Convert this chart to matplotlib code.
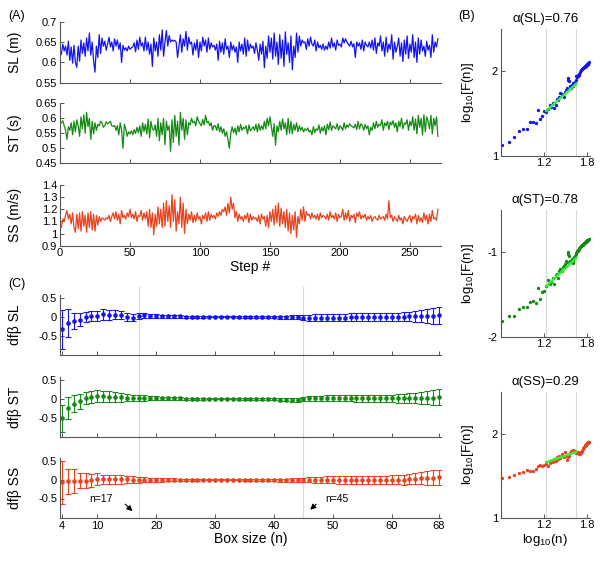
import numpy as np
import matplotlib
matplotlib.use("Agg")
import matplotlib.pyplot as plt
from matplotlib.lines import Line2D
from matplotlib.ticker import FuncFormatter

plt.rcParams["font.family"] = ["Liberation Sans", "DejaVu Sans"]
plt.rcParams["mathtext.fontset"] = "custom"
plt.rcParams["mathtext.rm"] = "Liberation Sans"

W, H = 602, 562

BLUE = "#1414F0"
GREEN = "#138A13"
RED = "#E8421E"
FIT = "#33EE33"
GRID = "#D8D8D8"
SPINE = "#555555"

# ---------- (A) time series ----------
sl_series = [
    0.620, 0.645, 0.628, 0.640, 0.618, 0.652, 0.605, 0.638, 0.598, 0.642,
    0.600, 0.588, 0.640, 0.603, 0.655, 0.622, 0.648, 0.615, 0.660, 0.628,
    0.672, 0.618, 0.650, 0.605, 0.576, 0.640, 0.612, 0.668, 0.622, 0.660,
    0.640, 0.652, 0.630, 0.645, 0.662, 0.638, 0.650, 0.628, 0.658, 0.640,
    0.655, 0.632, 0.648, 0.600, 0.642, 0.630, 0.636, 0.628, 0.640, 0.632,
    0.636, 0.638, 0.648, 0.626, 0.655, 0.632, 0.662, 0.640, 0.648, 0.628,
    0.662, 0.630, 0.650, 0.620, 0.645, 0.590, 0.660, 0.628, 0.650, 0.615,
    0.668, 0.630, 0.680, 0.615, 0.650, 0.678, 0.640, 0.666, 0.650, 0.655,
    0.652, 0.654, 0.650, 0.612, 0.640, 0.668, 0.625, 0.658, 0.640, 0.676,
    0.630, 0.662, 0.645, 0.650, 0.618, 0.648, 0.630, 0.656, 0.612, 0.650,
    0.628, 0.662, 0.640, 0.655, 0.625, 0.660, 0.632, 0.648, 0.638, 0.642,
    0.630, 0.645, 0.605, 0.652, 0.625, 0.648, 0.620, 0.658, 0.632, 0.640,
    0.612, 0.650, 0.630, 0.642, 0.625, 0.638, 0.600, 0.650, 0.628, 0.645,
    0.620, 0.660, 0.615, 0.655, 0.628, 0.645, 0.635, 0.640, 0.622, 0.648,
    0.630, 0.605, 0.645, 0.620, 0.652, 0.587, 0.640, 0.610, 0.665, 0.625,
    0.660, 0.608, 0.672, 0.615, 0.650, 0.595, 0.668, 0.610, 0.655, 0.590,
    0.675, 0.620, 0.648, 0.600, 0.665, 0.582, 0.640, 0.612, 0.672, 0.625,
    0.665, 0.640, 0.655, 0.648, 0.650, 0.632, 0.658, 0.640, 0.662, 0.645,
    0.640, 0.655, 0.628, 0.650, 0.636, 0.642, 0.632, 0.645, 0.630, 0.640,
    0.632, 0.650, 0.635, 0.660, 0.638, 0.648, 0.630, 0.655, 0.642, 0.645,
    0.638, 0.660, 0.648, 0.658, 0.650, 0.645, 0.640, 0.652, 0.638, 0.646,
    0.612, 0.650, 0.640, 0.648, 0.632, 0.655, 0.628, 0.650, 0.642, 0.638,
    0.650, 0.635, 0.655, 0.630, 0.660, 0.622, 0.648, 0.640, 0.665, 0.628,
    0.650, 0.615, 0.662, 0.625, 0.645, 0.632, 0.668, 0.608, 0.650, 0.625,
    0.640, 0.660, 0.615, 0.648, 0.602, 0.655, 0.620, 0.665, 0.610, 0.645,
    0.625, 0.668, 0.612, 0.650, 0.600, 0.660, 0.620, 0.655, 0.628, 0.640,
    0.615, 0.652, 0.630, 0.642, 0.612, 0.668, 0.625, 0.650, 0.638, 0.658,
]
st_series = [
    0.585, 0.592, 0.575, 0.560, 0.530, 0.572, 0.560, 0.585, 0.545, 0.590,
    0.555, 0.595, 0.575, 0.540, 0.605, 0.565, 0.612, 0.550, 0.620, 0.572,
    0.600, 0.530, 0.590, 0.548, 0.585, 0.560, 0.580, 0.575, 0.590, 0.585,
    0.570, 0.575, 0.588, 0.582, 0.585, 0.590, 0.575, 0.573, 0.576, 0.560,
    0.575, 0.545, 0.585, 0.560, 0.500, 0.580, 0.565, 0.540, 0.555, 0.548,
    0.558, 0.545, 0.562, 0.550, 0.570, 0.552, 0.575, 0.540, 0.585, 0.556,
    0.580, 0.548, 0.598, 0.535, 0.590, 0.565, 0.560, 0.578, 0.540, 0.600,
    0.525, 0.585, 0.545, 0.600, 0.512, 0.590, 0.560, 0.575, 0.490, 0.595,
    0.520, 0.610, 0.540, 0.590, 0.510, 0.620, 0.560, 0.600, 0.530, 0.595,
    0.545, 0.585, 0.578, 0.600, 0.585, 0.590, 0.575, 0.605, 0.590, 0.582,
    0.575, 0.596, 0.578, 0.610, 0.585, 0.590, 0.575, 0.585, 0.560, 0.575,
    0.575, 0.560, 0.582, 0.555, 0.572, 0.550, 0.565, 0.540, 0.555, 0.530,
    0.500, 0.548, 0.572, 0.552, 0.568, 0.545, 0.575, 0.555, 0.580, 0.560,
    0.570, 0.565, 0.575, 0.548, 0.578, 0.558, 0.565, 0.572, 0.560, 0.580,
    0.555, 0.582, 0.560, 0.575, 0.562, 0.590, 0.565, 0.600, 0.575, 0.605,
    0.572, 0.540, 0.582, 0.510, 0.575, 0.555, 0.590, 0.560, 0.598, 0.565,
    0.585, 0.545, 0.600, 0.550, 0.590, 0.548, 0.580, 0.560, 0.585, 0.555,
    0.575, 0.560, 0.570, 0.555, 0.565, 0.560, 0.568, 0.555, 0.560, 0.545,
    0.572, 0.552, 0.565, 0.560, 0.578, 0.550, 0.570, 0.558, 0.575, 0.545,
    0.580, 0.562, 0.588, 0.560, 0.575, 0.570, 0.565, 0.582, 0.560, 0.575,
    0.570, 0.560, 0.585, 0.565, 0.578, 0.570, 0.582, 0.575, 0.572, 0.568,
    0.580, 0.562, 0.590, 0.565, 0.582, 0.575, 0.560, 0.580, 0.565, 0.575,
    0.545, 0.570, 0.560, 0.585, 0.565, 0.590, 0.570, 0.580, 0.575, 0.595,
    0.560, 0.585, 0.575, 0.590, 0.562, 0.588, 0.578, 0.592, 0.570, 0.585,
    0.555, 0.590, 0.572, 0.600, 0.565, 0.585, 0.580, 0.595, 0.560, 0.590,
    0.575, 0.605, 0.560, 0.598, 0.548, 0.610, 0.570, 0.600, 0.545, 0.612,
    0.555, 0.605, 0.590, 0.565, 0.610, 0.548, 0.600, 0.575, 0.605, 0.540,
]
ss_series = [
    1.050, 1.120, 1.100, 1.150, 1.190, 1.120, 1.160, 1.080, 1.170, 1.050,
    1.010, 1.160, 1.040, 1.170, 1.020, 1.180, 1.060, 1.150, 1.010, 1.170,
    1.050, 1.180, 1.030, 1.160, 1.020, 1.150, 1.070, 1.140, 1.100, 1.130,
    1.120, 1.110, 1.130, 1.120, 1.150, 1.100, 1.140, 1.170, 1.120, 1.180,
    1.110, 1.160, 1.080, 1.190, 1.130, 1.150, 1.120, 1.170, 1.140, 1.200,
    1.130, 1.160, 1.120, 1.180, 1.100, 1.150, 1.140, 1.190, 1.110, 1.170,
    1.120, 1.180, 1.060, 1.200, 1.050, 1.170, 0.990, 1.160, 1.060, 1.220,
    1.080, 1.200, 1.050, 1.250, 1.060, 1.270, 1.100, 1.230, 1.050, 1.320,
    1.100, 1.280, 1.020, 1.180, 1.080, 1.300, 1.050, 1.250, 1.000, 1.200,
    1.080, 1.160, 1.110, 1.180, 1.090, 1.150, 1.100, 1.170, 1.120, 1.140,
    1.080, 1.150, 1.120, 1.170, 1.100, 1.180, 1.110, 1.160, 1.130, 1.150,
    1.120, 1.170, 1.140, 1.180, 1.150, 1.200, 1.180, 1.220, 1.150, 1.250,
    1.170, 1.300, 1.200, 1.250, 1.130, 1.180, 1.100, 1.160, 1.120, 1.140,
    1.100, 1.150, 1.120, 1.170, 1.090, 1.160, 1.110, 1.140, 1.120, 1.130,
    1.100, 1.150, 1.080, 1.160, 1.120, 1.140, 1.060, 1.150, 1.050, 1.180,
    1.100, 1.200, 1.070, 1.230, 1.090, 1.250, 1.060, 1.210, 1.080, 1.180,
    1.050, 1.200, 1.020, 1.170, 1.000, 1.150, 1.030, 1.180, 0.970, 1.140,
    1.080, 1.200, 1.110, 1.220, 1.100, 1.180, 1.150, 1.160, 1.120, 1.170,
    1.130, 1.150, 1.120, 1.160, 1.110, 1.170, 1.130, 1.150, 1.140, 1.120,
    1.160, 1.110, 1.180, 1.130, 1.150, 1.120, 1.170, 1.100, 1.160, 1.130,
    1.140, 1.200, 1.110, 1.170, 1.120, 1.190, 1.100, 1.150, 1.130, 1.160,
    1.090, 1.170, 1.140, 1.180, 1.120, 1.150, 1.130, 1.160, 1.110, 1.140,
    1.120, 1.150, 1.100, 1.130, 1.140, 1.120, 1.110, 1.150, 1.120, 1.130,
    1.140, 1.110, 1.160, 1.120, 1.270, 1.130, 1.150, 1.100, 1.140, 1.120,
    1.100, 1.150, 1.110, 1.130, 1.080, 1.140, 1.120, 1.100, 1.130, 1.150,
    1.090, 1.140, 1.120, 1.160, 1.080, 1.150, 1.100, 1.130, 1.090, 1.170,
    1.110, 1.150, 1.080, 1.160, 1.100, 1.190, 1.120, 1.130, 1.110, 1.200,
]
steps = np.arange(1, len(sl_series) + 1)

# ---------- (C) dfβ per box size ----------
box_sizes = list(range(4, 69))
sl_dfb = [
    -0.33, -0.17, -0.11, -0.08, -0.01, 0.02, 0.03, 0.07, 0.05, 0.06,
    0.04, 0.00, -0.02, 0.02, 0.04, 0.03, 0.02, 0.02, 0.01, 0.01,
    0.01, 0.00, 0.00, 0.00, 0.00, 0.00, 0.00, 0.00, 0.00, 0.00,
    0.00, 0.00, 0.00, 0.00, 0.00, 0.00, -0.01, -0.01, -0.01, -0.01,
    -0.01, -0.02, -0.02, -0.02, -0.02, -0.02, -0.02, -0.02, -0.02, -0.01,
    -0.01, -0.01, -0.01, -0.01, -0.01, -0.01, 0.00, 0.00, 0.00, 0.01,
    0.01, 0.02, 0.02, 0.03, 0.04,
]
sl_dfb_err = [
    0.52, 0.37, 0.22, 0.17, 0.14, 0.13, 0.13, 0.15, 0.13, 0.12,
    0.11, 0.10, 0.09, 0.07, 0.06, 0.05, 0.05, 0.04, 0.04, 0.03,
    0.03, 0.03, 0.02, 0.02, 0.02, 0.01, 0.01, 0.01, 0.01, 0.01,
    0.02, 0.02, 0.02, 0.02, 0.03, 0.03, 0.03, 0.04, 0.04, 0.05,
    0.06, 0.07, 0.08, 0.09, 0.09, 0.10, 0.10, 0.10, 0.10, 0.10,
    0.10, 0.10, 0.10, 0.10, 0.10, 0.10, 0.11, 0.11, 0.12, 0.13,
    0.15, 0.17, 0.19, 0.21, 0.23,
]
st_dfb = [
    -0.52, -0.25, -0.13, -0.06, 0.01, 0.04, 0.07, 0.07, 0.06, 0.05,
    0.04, 0.03, 0.02, 0.02, 0.02, 0.02, 0.02, 0.01, 0.01, 0.01,
    0.01, 0.00, 0.00, 0.00, 0.00, 0.00, 0.00, 0.00, 0.00, 0.00,
    0.00, 0.00, 0.00, -0.01, -0.01, -0.01, -0.01, -0.02, -0.02, -0.03,
    -0.03, 0.00, 0.01, 0.01, 0.01, 0.01, 0.01, 0.01, 0.01, 0.01,
    0.01, 0.01, 0.01, 0.01, 0.01, 0.01, 0.01, 0.01, 0.02, 0.02,
    0.02, 0.03, 0.03, 0.03, 0.04,
]
st_dfb_err = [
    0.36, 0.29, 0.23, 0.20, 0.16, 0.16, 0.16, 0.15, 0.14, 0.13,
    0.12, 0.10, 0.09, 0.08, 0.07, 0.06, 0.06, 0.05, 0.05, 0.04,
    0.03, 0.03, 0.02, 0.02, 0.02, 0.01, 0.01, 0.01, 0.01, 0.01,
    0.02, 0.02, 0.02, 0.02, 0.03, 0.03, 0.03, 0.04, 0.04, 0.05,
    0.05, 0.06, 0.07, 0.07, 0.07, 0.08, 0.08, 0.08, 0.08, 0.08,
    0.09, 0.09, 0.09, 0.09, 0.10, 0.10, 0.10, 0.11, 0.12, 0.13,
    0.14, 0.16, 0.18, 0.20, 0.21,
]
ss_dfb = [
    -0.07, -0.04, -0.03, -0.02, -0.02, -0.01, 0.02, 0.01, 0.01, 0.01,
    0.01, 0.01, 0.00, 0.00, 0.00, 0.00, 0.00, 0.00, 0.00, 0.00,
    0.00, 0.00, 0.00, 0.00, 0.00, 0.00, 0.00, 0.00, 0.00, 0.00,
    0.00, 0.00, 0.00, 0.00, 0.00, -0.01, -0.01, -0.01, -0.01, -0.01,
    -0.01, -0.01, 0.00, 0.00, 0.00, 0.00, 0.00, 0.00, 0.00, 0.00,
    0.00, 0.00, 0.00, 0.00, 0.00, 0.00, 0.00, 0.00, 0.00, 0.02,
    0.03, 0.04, 0.05, 0.06, 0.07,
]
ss_dfb_err = [
    0.57, 0.33, 0.33, 0.20, 0.19, 0.17, 0.15, 0.13, 0.12, 0.12,
    0.11, 0.10, 0.09, 0.08, 0.07, 0.06, 0.05, 0.05, 0.04, 0.04,
    0.03, 0.02, 0.02, 0.02, 0.01, 0.01, 0.01, 0.01, 0.01, 0.01,
    0.01, 0.02, 0.02, 0.02, 0.02, 0.03, 0.03, 0.04, 0.04, 0.05,
    0.05, 0.06, 0.07, 0.08, 0.08, 0.09, 0.09, 0.10, 0.10, 0.10,
    0.10, 0.10, 0.10, 0.11, 0.11, 0.11, 0.12, 0.12, 0.13, 0.14,
    0.15, 0.16, 0.18, 0.19, 0.20,
]

# ---------- (B) log10 F(n) ----------
sl_logF = [
    1.13, 1.16, 1.22, 1.29, 1.32, 1.32, 1.40, 1.40, 1.39, 1.54,
    1.44, 1.47, 1.53, 1.52, 1.55, 1.60, 1.58, 1.62, 1.56, 1.60,
    1.67, 1.66, 1.70, 1.74, 1.73, 1.72, 1.70, 1.75, 1.78, 1.80,
    1.90, 1.92, 1.88, 1.82, 1.80, 1.84, 1.83, 1.86, 1.85, 1.87,
    1.90, 1.94, 1.93, 1.94, 1.95, 1.96, 1.97, 1.99, 2.01, 2.02,
    2.03, 2.03, 2.04, 2.04, 2.05, 2.05, 2.06, 2.06, 2.07, 2.07,
    2.08, 2.08, 2.09, 2.10, 2.11,
]
st_logF = [
    -1.82, -1.75, -1.76, -1.67, -1.65, -1.65, -1.59, -1.58, -1.60, -1.42,
    -1.55, -1.47, -1.46, -1.40, -1.33, -1.38, -1.35, -1.30, -1.38, -1.27,
    -1.26, -1.30, -1.22, -1.20, -1.22, -1.18, -1.16, -1.14, -1.10, -1.12,
    -1.00, -1.02, -1.05, -1.10, -1.12, -1.08, -1.13, -1.10, -1.06, -1.04,
    -1.02, -1.01, -0.99, -0.98, -0.97, -0.96, -0.95, -0.94, -0.93, -0.93,
    -0.92, -0.92, -0.91, -0.90, -0.89, -0.89, -0.88, -0.88, -0.87, -0.87,
    -0.86, -0.86, -0.85, -0.85, -0.84,
]
ss_logF = [
    1.475, 1.49, 1.51, 1.53, 1.55, 1.57, 1.56, 1.56, 1.58, 1.61,
    1.63, 1.62, 1.63, 1.64, 1.62, 1.65, 1.67, 1.66, 1.70, 1.68,
    1.72, 1.70, 1.74, 1.71, 1.76, 1.73, 1.72, 1.78, 1.74, 1.69,
    1.72, 1.75, 1.73, 1.77, 1.79, 1.80, 1.80, 1.81, 1.80, 1.79,
    1.78, 1.77, 1.77, 1.77, 1.78, 1.77, 1.76, 1.76, 1.77, 1.78,
    1.79, 1.80, 1.82, 1.83, 1.84, 1.85, 1.86, 1.87, 1.88, 1.88,
    1.89, 1.89, 1.90, 1.90, 1.90,
]
alphas = [0.76, 0.78, 0.29]
fit_start = [1.53, -1.40, 1.66]   # log10 F at n=17
fit_range = [17, 45]

names = ["SL", "ST", "SS"]
colors = [BLUE, GREEN, RED]


def _rect(l, t, r, b):
    return [l / W, 1 - b / H, (r - l) / W, (b - t) / H]


def _style(ax):
    for s in ("top", "right"):
        ax.spines[s].set_visible(False)
    for s in ("left", "bottom"):
        ax.spines[s].set_color(SPINE)
        ax.spines[s].set_linewidth(0.8)
    ax.tick_params(direction="in", length=3, width=0.7, colors=SPINE,
                   labelcolor="black", labelsize=8, pad=2)


fmt = FuncFormatter(lambda v, p: f"{v:g}")
fig = plt.figure(figsize=(W / 100, H / 100), dpi=100)

# ---- panel A ----
a_boxes = [(60, 21.7, 440.7, 82.7), (60, 103.3, 440.7, 163.3),
           (60, 185, 440.7, 245.7)]
a_data = [sl_series, st_series, ss_series]
a_ylims = [(0.55, 0.7), (0.45, 0.65), (0.9, 1.4)]
a_yticks = [[0.55, 0.6, 0.65, 0.7], [0.45, 0.5, 0.55, 0.6, 0.65],
            [0.9, 1.0, 1.1, 1.2, 1.3, 1.4]]
a_ylabels = ["SL (m)", "ST (s)", "SS (m/s)"]
for i in range(3):
    ax = fig.add_axes(_rect(*a_boxes[i]))
    _style(ax)
    ax.plot(steps, a_data[i], color=colors[i], lw=0.9)
    ax.set_xlim(0, 272)
    ax.set_ylim(*a_ylims[i])
    ax.set_yticks(a_yticks[i])
    ax.yaxis.set_major_formatter(fmt)
    ax.set_xticks([0, 50, 100, 150, 200, 250])
    if i < 2:
        ax.tick_params(labelbottom=False)
    else:
        ax.set_xlabel("Step #", fontsize=10, labelpad=1)
    ax.set_ylabel(a_ylabels[i], fontsize=10)
    ax.yaxis.set_label_coords(-0.10, 0.5)

# ---- panel C ----
c_boxes = [(60, 295, 440.7, 355), (60, 377, 440.7, 437),
           (60, 458, 440.7, 518)]
c_mean = [sl_dfb, st_dfb, ss_dfb]
c_err = [sl_dfb_err, st_dfb_err, ss_dfb_err]
c_xlim = (3.66, 68.3)
for i in range(3):
    ax = fig.add_axes(_rect(*c_boxes[i]))
    ax.set_facecolor("none")
    _style(ax)
    ax.errorbar(box_sizes, c_mean[i], yerr=c_err[i], fmt="o", ms=2.3,
                color=colors[i], ecolor=colors[i], elinewidth=0.8,
                capsize=2.2, capthick=0.8)
    ax.set_xlim(*c_xlim)
    ax.set_ylim(-1.02, 0.58)
    ax.set_yticks([-0.5, 0, 0.5])
    ax.yaxis.set_major_formatter(fmt)
    ax.set_xticks([4, 10, 20, 30, 40, 50, 60, 68])
    if i < 2:
        ax.tick_params(labelbottom=False)
    else:
        ax.set_xlabel("Box size (n)", fontsize=10, labelpad=1)
        ax.annotate("", xy=(16.3, -0.89), xytext=(14.4, -0.6),
                    arrowprops=dict(arrowstyle="-|>", color="black", lw=0.8,
                                    mutation_scale=8))
        ax.text(10.6, -0.52, "n=17", fontsize=7.5, ha="center", va="center")
        ax.annotate("", xy=(45.8, -0.85), xytext=(47.5, -0.6),
                    arrowprops=dict(arrowstyle="-|>", color="black", lw=0.8,
                                    mutation_scale=8))
        ax.text(50.6, -0.52, "n=45", fontsize=7.5, ha="center", va="center")
    ax.set_ylabel(f"dfβ {names[i]}", fontsize=10)
    ax.yaxis.set_label_coords(-0.10, 0.5)

# vertical reference lines through all (C) panels
for nref in fit_range:
    xpx = 60 + (nref - c_xlim[0]) / (c_xlim[1] - c_xlim[0]) * (440.7 - 60)
    fig.add_artist(Line2D([xpx / W, xpx / W], [1 - 518 / H, 1 - 287 / H],
                          color=GRID, lw=0.8, zorder=-1))

# ---- panel B ----
b_boxes = [(500.7, 29, 590, 155.7), (500.7, 210, 590, 336.7),
           (500.7, 391.7, 590, 517.7)]
b_data = [sl_logF, st_logF, ss_logF]
b_ylims = [(1, 2.5), (-2, -0.5), (1, 2.5)]
b_yticks = [[1, 2], [-2, -1], [1, 2]]
logn = np.log10(box_sizes)
for i in range(3):
    ax = fig.add_axes(_rect(*b_boxes[i]))
    _style(ax)
    for nref in fit_range:
        ax.axvline(np.log10(nref), color=GRID, lw=0.8, zorder=0)
    ax.plot(logn, b_data[i], "o", ms=2.4, color=colors[i], mec="none")
    fx = np.log10(fit_range)
    ax.plot(fx, [fit_start[i], fit_start[i] + alphas[i] * (fx[1] - fx[0])],
            color=FIT, lw=1.8)
    ax.set_xlim(0.588, 1.848)
    ax.set_ylim(*b_ylims[i])
    ax.set_xticks([1.2, 1.8])
    ax.set_yticks(b_yticks[i])
    ax.yaxis.set_major_formatter(fmt)
    ax.set_title(f"α({names[i]})={alphas[i]:.2f}", fontsize=9.5, pad=5)
    ax.set_ylabel(r"log$_\mathregular{10}$[F(n)]", fontsize=9.5)
    ax.yaxis.set_label_coords(-0.28, 0.5)
    if i == 2:
        ax.set_xlabel(r"log$_\mathregular{10}$(n)", fontsize=9.5, labelpad=1)

# panel letters
fig.text(17 / W, 1 - 16 / H, "(A)", fontsize=9, ha="center", va="center")
fig.text(467 / W, 1 - 16 / H, "(B)", fontsize=9, ha="center", va="center")
fig.text(17 / W, 1 - 284 / H, "(C)", fontsize=9, ha="center", va="center")

fig.savefig("out.png", dpi=100)
